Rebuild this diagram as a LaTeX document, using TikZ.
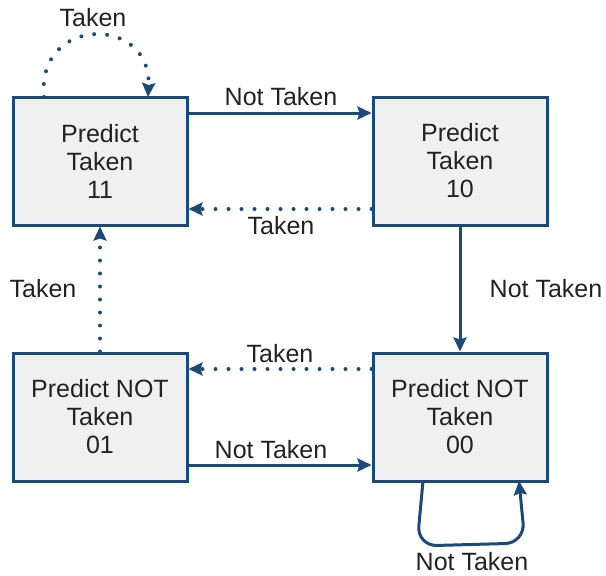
\documentclass[tikz,border=0pt]{standalone}
\usepackage{fontspec}
\setmainfont{Liberation Sans}
\usetikzlibrary{arrows.meta}
\definecolor{edgeblue}{HTML}{1B4A78}
\definecolor{boxfill}{HTML}{F0F0F0}
\definecolor{txt}{HTML}{222222}
\begin{document}
\begin{tikzpicture}[x=1pt,y=-1pt,
  state/.style={draw=edgeblue, line width=3pt, fill=boxfill, minimum width=174pt, minimum height=128pt, inner sep=0pt, align=center, font=\fontsize{25}{28}\selectfont, text=txt},
  lbl/.style={font=\fontsize{25}{28}\selectfont, text=txt, inner sep=0pt},
  arr/.style={draw=edgeblue, line width=3pt, -{Stealth[length=14pt,width=13pt,inset=2pt]}},
  solidarr/.style={arr},
  dotarr/.style={arr, dash pattern=on 0pt off 13pt, line cap=round, line width=4pt}
]
\useasboundingbox (0,0) rectangle (606,576);
\node[state] (s11) at (100,161) {Predict\\Taken\\11};
\node[state] (s10) at (460,161) {Predict\\Taken\\10};
\node[state] (s01) at (100,417) {Predict NOT\\Taken\\01};
\node[state] (s00) at (460,417) {Predict NOT\\Taken\\00};

\draw[solidarr] (s11.east |- 0,113) -- (s10.west |- 0,113);
\draw[dotarr] (s10.west |- 0,209) -- (s11.east |- 0,209);
\draw[solidarr] (s10.south) -- (s00.north);
\draw[dotarr] (s00.west |- 0,369) -- (s01.east |- 0,369);
\draw[solidarr] (s01.east |- 0,465) -- (s00.west |- 0,465);
\draw[dotarr] (s01.north) -- (s11.south);

\coordinate (l11a) at (44,97);
\coordinate (l11b) at (148,97);
\draw[dotarr] (l11a) .. controls (36,15) and (152,15) .. (l11b);
\coordinate (l00a) at (423,481);
\coordinate (l00b) at (519,481);
\draw[solidarr, rounded corners=20pt] (l00a) -- (417,546) -- (525,543) -- (l00b);

\node[lbl] (t1) at (93,18) {Taken};
\node[lbl] (t2) at (281,97) {Not Taken};
\node[lbl] (t3) at (281,226) {Taken};
\node[lbl] (t4) at (546,289) {Not Taken};
\node[lbl] (t5) at (43,289) {Taken};
\node[lbl] (t6) at (280,354) {Taken};
\node[lbl] (t7) at (271,450) {Not Taken};
\node[lbl] (t8) at (472,562) {Not Taken};
\end{tikzpicture}
\end{document}
